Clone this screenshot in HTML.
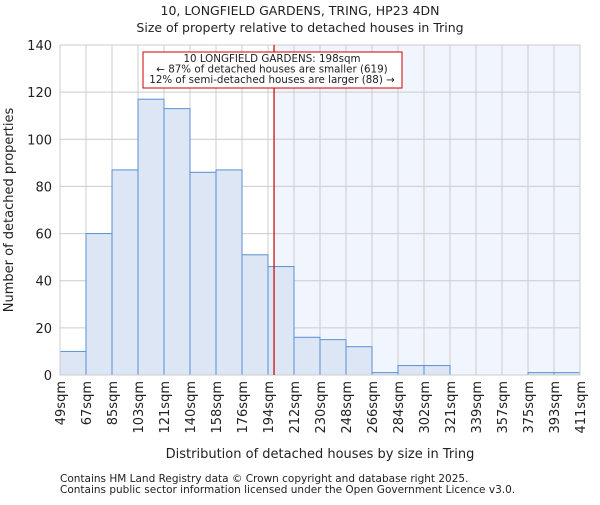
<!DOCTYPE html>
<html><head><meta charset="utf-8"><style>body{margin:0;background:#fff}svg text{font-family:"DejaVu Sans","Liberation Sans",sans-serif;fill:#222}</style></head>
<body>
<svg id="chart" width="600" height="500"></svg>
<script>
const edges=["49sqm","67sqm","85sqm","103sqm","121sqm","140sqm","158sqm","176sqm","194sqm","212sqm","230sqm","248sqm","266sqm","284sqm","302sqm","321sqm","339sqm","357sqm","375sqm","393sqm","411sqm"];
const counts=[10,60,87,117,113,86,87,51,46,16,15,12,1,4,4,0,0,0,1,1];
const yTicks=[0,20,40,60,80,100,120,140];
const propertySize=198;
const xMin=49,xMax=411;
const L=60,R=580,T=45,B=375;
const NS="http://www.w3.org/2000/svg";
const svg=document.getElementById('chart');
function el(t,a,txt){const e=document.createElementNS(NS,t);for(const k in a)e.setAttribute(k,a[k]);if(txt!==undefined)e.textContent=txt;svg.appendChild(e);return e;}
const bw=(R-L)/counts.length;
const xs=v=>L+(v-xMin)/(xMax-xMin)*(R-L);
const ys=v=>B-v/140*(B-T);
const px=xs(propertySize);
let s=el('rect',{x:px,y:T,width:R-px,height:B-T,fill:'#f1f5fd'});


for(let i=0;i<=counts.length;i++){let g=el('line',{x1:L+i*bw,x2:L+i*bw,y1:T,y2:B,stroke:'#cccccc','stroke-width':1});

}
yTicks.forEach(v=>{let g=el('line',{x1:L,x2:R,y1:ys(v),y2:ys(v),stroke:'#cccccc','stroke-width':1});


let t=el('text',{x:L-8,y:ys(v)+5,'text-anchor':'end','font-size':13},v);

});
counts.forEach((c,i)=>{if(c<=0)return;let b=el('rect',{x:L+i*bw,y:ys(c),width:bw,height:B-ys(c),fill:'#dce6f5',stroke:'#5a8fd6','stroke-width':1});

});
edges.forEach((e,i)=>{const x=L+i*bw;let t=el('text',{transform:`translate(${x+5},381) rotate(-90)`,'text-anchor':'end','font-size':13},e);

});
let ax=el('rect',{x:L,y:T,width:R-L,height:B-T,fill:'none',stroke:'#cccccc'});


let rl=el('line',{x1:px,x2:px,y1:T,y2:B,stroke:'#cc0000','stroke-width':1.2});


let box=el('rect',{x:143,y:52,width:259,height:36,fill:'#fff',stroke:'#cc0000','stroke-width':1});


[["10 LONGFIELD GARDENS: 198sqm",62],["← 87% of detached houses are smaller (619)",72.5],["12% of semi-detached houses are larger (88) →",83]].forEach(a=>{let t=el('text',{x:272,y:a[1],'text-anchor':'middle','font-size':10.3},a[0]);

});
let t1=el('text',{x:300,y:15,'text-anchor':'middle','font-size':12.5},"10, LONGFIELD GARDENS, TRING, HP23 4DN");


let t2=el('text',{x:300,y:32,'text-anchor':'middle','font-size':12.5},"Size of property relative to detached houses in Tring");


let xt=el('text',{x:320,y:458,'text-anchor':'middle','font-size':13},"Distribution of detached houses by size in Tring");


let yt=el('text',{transform:'translate(13,210) rotate(-90)','text-anchor':'middle','font-size':13},"Number of detached properties");


let f1=el('text',{x:60,y:482,'font-size':10.5,fill:'#444'},"Contains HM Land Registry data © Crown copyright and database right 2025.");


let f2=el('text',{x:60,y:493,'font-size':10.5,fill:'#444'},"Contains public sector information licensed under the Open Government Licence v3.0.");


</script>
</body></html>
